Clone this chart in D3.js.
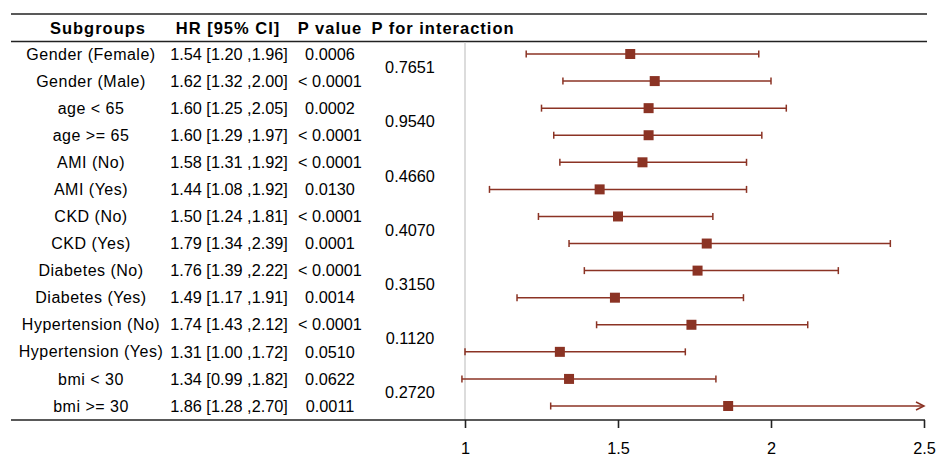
<!DOCTYPE html>
<html><head><meta charset="utf-8">
<script src="https://cdn.jsdelivr.net/npm/d3@7"></script>
<style>body{margin:0;background:#fff;} text{font-family:"Liberation Sans",Arial,sans-serif;}</style>
</head><body>
<svg id="c" width="938" height="456"></svg>
<script>
const subgroups = ["Gender (Female)","Gender (Male)","age < 65","age >= 65","AMI (No)","AMI (Yes)","CKD (No)","CKD (Yes)","Diabetes (No)","Diabetes (Yes)","Hypertension (No)","Hypertension (Yes)","bmi < 30","bmi >= 30"];
const hr    = [1.54,1.62,1.60,1.60,1.58,1.44,1.50,1.79,1.76,1.49,1.74,1.31,1.34,1.86];
const lower = [1.20,1.32,1.25,1.29,1.31,1.08,1.24,1.34,1.39,1.17,1.43,1.00,0.99,1.28];
const upper = [1.96,2.00,2.05,1.97,1.92,1.92,1.81,2.39,2.22,1.91,2.12,1.72,1.82,2.70];
const pValues = ["0.0006","< 0.0001","0.0002","< 0.0001","< 0.0001","0.0130","< 0.0001","0.0001","< 0.0001","0.0014","< 0.0001","0.0510","0.0622","0.0011"];
const pInteraction = ["0.7651","0.9540","0.4660","0.4070","0.3150","0.1120","0.2720"];
const headers = ["Subgroups","HR [95% CI]","P value","P for interaction"];
const xTicks = [1,1.5,2,2.5];

const svg = d3.select("#c");
const col = "#8B3324";
const fs = 16;
const x = d3.scaleLinear().domain([1,2.5]).range([465,924]);
const y = d3.scaleLinear().domain([0,13]).range([54,406]);
const fmt = d3.format(".2f");

// horizontal rules
[14,41.5].forEach(yy=>svg.append("line").attr("x1",11).attr("x2",927).attr("y1",yy).attr("y2",yy).attr("stroke","#222").attr("stroke-width",1.6));

// reference line
svg.append("line").attr("x1",x(1)).attr("x2",x(1)).attr("y1",42).attr("y2",420).attr("stroke","#d0d0d0").attr("stroke-width",1.5);

// headers
const hx = [98,228,330,443];
headers.forEach((h,i)=>svg.append("text").attr("x",hx[i]).attr("y",28).attr("dy","0.35em").attr("text-anchor","middle").attr("font-weight","bold").attr("font-size",16.5).attr("letter-spacing",1.0).attr("fill","#000").text(h));

// rows
const g = svg.append("g");
subgroups.forEach((s,i)=>{
  const yy = y(i);
  g.append("text").attr("x",91).attr("y",yy).attr("dy","0.35em").attr("text-anchor","middle").attr("font-size",fs).attr("letter-spacing",0.5).text(s);
  g.append("text").attr("x",229).attr("y",yy).attr("dy","0.35em").attr("text-anchor","middle").attr("font-size",16.3).text(`${fmt(hr[i])} [${fmt(lower[i])} ,${fmt(upper[i])}]`);
  g.append("text").attr("x",330).attr("y",yy).attr("dy","0.35em").attr("text-anchor","middle").attr("font-size",16.3).text(pValues[i]);
  const hiClip = upper[i]>2.5;
  const x1 = x(lower[i]), x2 = x(Math.min(upper[i],2.5));
  g.append("line").attr("x1",x1).attr("x2",x2).attr("y1",yy).attr("y2",yy).attr("stroke",col).attr("stroke-width",1.5);
  g.append("line").attr("x1",x1).attr("x2",x1).attr("y1",yy-3.5).attr("y2",yy+3.5).attr("stroke",col).attr("stroke-width",1.5);
  if(hiClip){
    g.append("path").attr("d",`M${x2-8},${yy-4}L${x2},${yy}L${x2-8},${yy+4}`).attr("fill","none").attr("stroke",col).attr("stroke-width",1.5);
  } else {
    g.append("line").attr("x1",x2).attr("x2",x2).attr("y1",yy-3.5).attr("y2",yy+3.5).attr("stroke",col).attr("stroke-width",1.5);
  }
  g.append("rect").attr("x",x(hr[i])-5).attr("y",yy-5).attr("width",10).attr("height",10).attr("fill",col);
});
pInteraction.forEach((p,k)=>{
  const yy = (y(2*k)+y(2*k+1))/2;
  g.append("text").attr("x",410).attr("y",yy).attr("dy","0.35em").attr("text-anchor","middle").attr("font-size",16.3).text(p);
});

// axis / bottom rule
svg.append("line").attr("x1",11).attr("x2",925).attr("y1",420).attr("y2",420).attr("stroke","#222").attr("stroke-width",1.6);
const ax = svg.append("g").attr("transform","translate(0,420)").call(d3.axisBottom(x).tickValues(xTicks).tickFormat(d3.format("")).tickSize(8).tickSizeOuter(0));
ax.select(".domain").remove();
ax.selectAll(".tick line").attr("stroke","#222").attr("stroke-width",1.6);
ax.selectAll(".tick text").attr("font-size",16.3).attr("font-family","Liberation Sans, Arial, sans-serif").attr("fill","#000").attr("y",22);
</script>
</body></html>
